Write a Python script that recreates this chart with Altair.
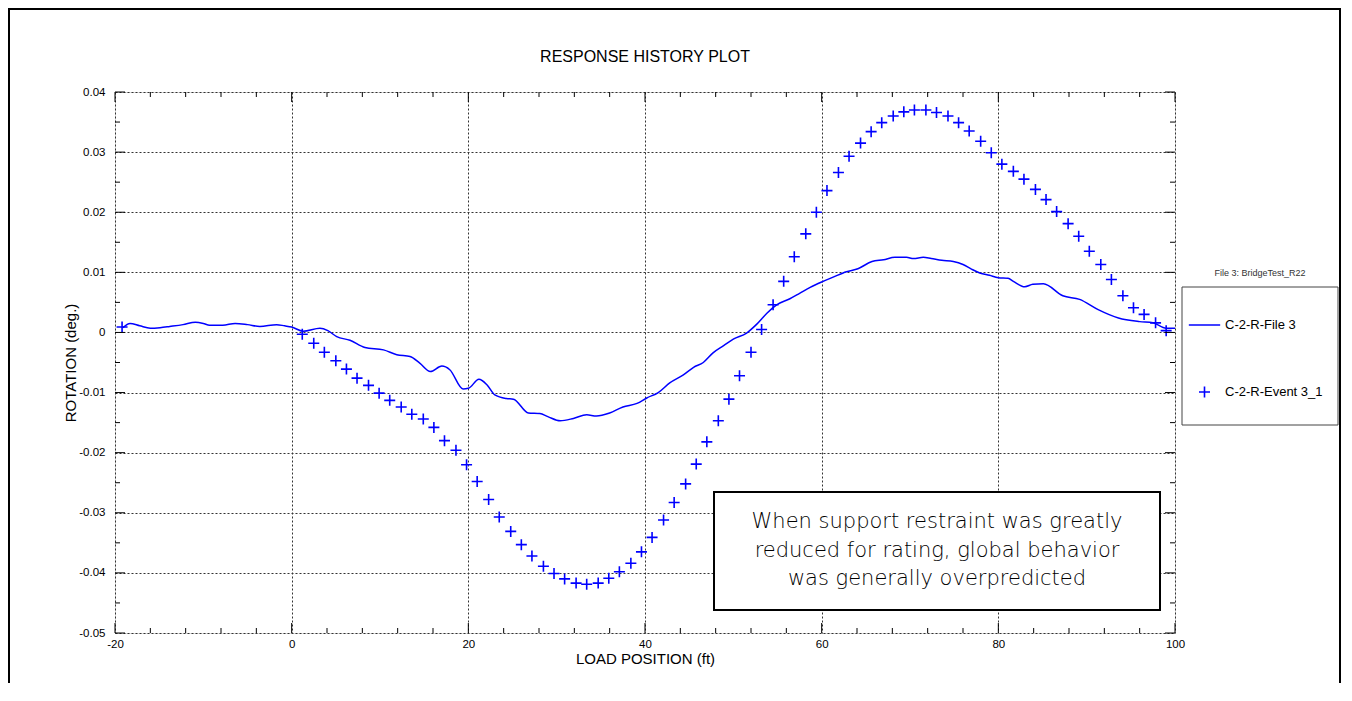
import altair as alt
import pandas as pd

# ---------------- data ----------------
title_text = "RESPONSE HISTORY PLOT"
x_title = "LOAD POSITION (ft)"
y_title = "ROTATION (deg.)"
series_names = ["C-2-R-File 3", "C-2-R-Event 3_1"]
legend_header = "File 3: BridgeTest_R22"
note_lines = ["When support restraint was greatly",
              "reduced for rating, global behavior",
              "was generally overpredicted"]

file_x = [-19.1, -18.3, -17.2, -16.0, -14.9, -13.8, -12.3, -10.9, -10.0, -9.3,
          -7.8, -6.4, -5.0, -3.6, -1.7, -0.8, 0.0, 1.3, 3.2, 4.1,
          5.1, 6.6, 8.3, 10.4, 11.9, 13.4, 14.5, 15.7, 17.0, 17.9,
          19.4, 20.0, 21.2, 22.1, 23.0, 24.3, 25.1, 26.8, 28.1, 29.0,
          30.4, 31.9, 33.4, 34.5, 36.0, 37.5, 39.1, 40.2, 41.5, 42.8,
          44.3, 45.5, 46.6, 47.7, 48.9, 50.0, 51.5, 52.6, 53.8, 54.9,
          56.4, 57.5, 58.7, 60.0, 61.3, 62.8, 64.1, 65.7, 67.0, 68.3,
          69.6, 70.4, 71.5, 72.4, 73.6, 74.9, 76.0, 77.0, 77.9, 79.0,
          80.0, 81.1, 81.7, 83.0, 83.9, 85.1, 87.3, 89.2, 91.3, 93.6,
          96.0, 97.5, 99.0, 100.0]
file_y = [0.0008, 0.0015, 0.0011, 0.0007, 0.0008, 0.0010, 0.0013, 0.0017, 0.0015, 0.0012,
          0.0012, 0.0015, 0.0013, 0.0010, 0.0013, 0.0011, 0.0009, 0.0002, 0.0007, 0.0003,
          -0.0007, -0.0013, -0.0025, -0.0029, -0.0037, -0.0040, -0.0051, -0.0065, -0.0056, -0.0062,
          -0.0094, -0.0093, -0.0078, -0.0087, -0.0104, -0.0110, -0.0111, -0.0134, -0.0135, -0.0140,
          -0.0147, -0.0143, -0.0137, -0.0139, -0.0134, -0.0124, -0.0118, -0.0109, -0.0100, -0.0084,
          -0.0071, -0.0058, -0.0050, -0.0034, -0.0022, -0.0011, -0.0001, 0.0013, 0.0032, 0.0046,
          0.0056, 0.0065, 0.0075, 0.0084, 0.0092, 0.0101, 0.0106, 0.0118, 0.0121, 0.0125,
          0.0125, 0.0123, 0.0125, 0.0123, 0.0120, 0.0118, 0.0113, 0.0105, 0.0099, 0.0095,
          0.0091, 0.0090, 0.0085, 0.0076, 0.0080, 0.0081, 0.0061, 0.0055, 0.0038, 0.0024,
          0.0018, 0.0016, 0.0007, 0.0007]

event_x = [-19.2,
           1.2, 2.5, 3.7, 5.0, 6.2, 7.4, 8.7, 9.9, 11.1, 12.4,
           13.6, 14.9, 16.1, 17.3, 18.6, 19.8, 21.0, 22.3, 23.5, 24.8,
           26.0, 27.2, 28.5, 29.7, 30.9, 32.2, 33.4, 34.7, 35.9, 37.1,
           38.4, 39.6, 40.8, 42.1, 43.3, 44.6, 45.8, 47.0, 48.3, 49.5,
           50.7, 52.0, 53.2, 54.5, 55.7, 56.9, 58.2, 59.4, 60.6, 61.9,
           63.1, 64.4, 65.6, 66.8, 68.1, 69.3, 70.5, 71.8, 73.0, 74.3,
           75.5, 76.7, 78.0, 79.2, 80.4, 81.7, 82.9, 84.2, 85.4, 86.6,
           87.9, 89.1, 90.3, 91.6, 92.8, 94.1, 95.3, 96.5, 97.8, 99.0]
event_y = [0.0009,
           -0.0003, -0.0018, -0.0033, -0.0047, -0.0061, -0.0076, -0.0088, -0.0101, -0.0113, -0.0124,
           -0.0136, -0.0144, -0.0158, -0.0180, -0.0196, -0.0220, -0.0248, -0.0278, -0.0307, -0.0331,
           -0.0353, -0.0372, -0.0389, -0.0401, -0.0410, -0.0417, -0.0419, -0.0417, -0.0409, -0.0398,
           -0.0384, -0.0365, -0.0341, -0.0312, -0.0283, -0.0252, -0.0219, -0.0182, -0.0147, -0.0111,
           -0.0072, -0.0033, 0.0005, 0.0046, 0.0085, 0.0126, 0.0164, 0.0200, 0.0236, 0.0266,
           0.0293, 0.0315, 0.0334, 0.0349, 0.0360, 0.0367, 0.0370, 0.0370, 0.0366, 0.0360,
           0.0349, 0.0335, 0.0318, 0.0299, 0.0280, 0.0268, 0.0255, 0.0238, 0.0221, 0.0201,
           0.0181, 0.0160, 0.0135, 0.0113, 0.0088, 0.0061, 0.0041, 0.0030, 0.0016, 0.0003]

x_major = [-20, 0, 20, 40, 60, 80, 100]
x_minor = [-16, -12, -8, -4, 4, 8, 12, 16, 24, 28, 32, 36, 44, 48, 52, 56,
           64, 68, 72, 76, 84, 88, 92, 96]
y_major = [-0.05, -0.04, -0.03, -0.02, -0.01, 0.0, 0.01, 0.02, 0.03, 0.04]
y_minor = [-0.045, -0.035, -0.025, -0.015, -0.005, 0.005, 0.015, 0.025, 0.035]

# ---------------- styling ----------------
BLUE = "#0000FF"
FONT = "Liberation Sans"
W, H = 1060, 541
PLUS = "M-1,0L1,0M0,-1L0,1"
DASH = "M-2.85,0L2.85,0"

df_file = pd.DataFrame({"x": file_x, "y": file_y, "series": series_names[0]})
df_event = pd.DataFrame({"x": event_x, "y": event_y, "series": series_names[1]})
dummy = pd.DataFrame({"k": [0]})

xs = alt.Scale(domain=[-20, 100], nice=False, zero=False)
ys = alt.Scale(domain=[-0.05, 0.04], nice=False, zero=False)

x_axis = alt.Axis(values=x_major, title=x_title, grid=True, gridDash=[2, 2],
                  gridColor="#333", gridWidth=1, ticks=False, domain=False,
                  labelExpr="(datum.value < 0 ? '-' : '') + format(abs(datum.value), 'd')",
                  labelFont=FONT, labelFontSize=11.5, labelColor="black", labelPadding=5,
                  labelFlush=False,
                  titleFont=FONT, titleFontSize=15, titleFontWeight="normal",
                  titleColor="black", titlePadding=2)
y_axis = alt.Axis(values=y_major, title=y_title, grid=True, gridDash=[2, 2],
                  gridColor="#333", gridWidth=1, ticks=False, domain=False,
                  labelExpr="datum.value == 0 ? '0' : (datum.value < 0 ? '-' : '') + format(abs(datum.value), '.2f')",
                  labelFont=FONT, labelFontSize=11.5, labelColor="black", labelPadding=10,
                  labelFlush=False,
                  titleFont=FONT, titleFontSize=15, titleFontWeight="normal",
                  titleColor="black", titlePadding=0)

X = lambda f: alt.X(f, scale=xs, axis=x_axis)
Y = lambda f: alt.Y(f, scale=ys, axis=y_axis)

line = alt.Chart(df_file).mark_line(color=BLUE, strokeWidth=1.5, interpolate="monotone").encode(
    x=X("x:Q"), y=Y("y:Q"),
)

points = alt.Chart(df_event).mark_point(filled=False, size=121, strokeWidth=1.6,
                                         color=BLUE, opacity=1).encode(
    x=X("x:Q"), y=Y("y:Q"),
    shape=alt.Shape("series:N",
                    scale=alt.Scale(domain=series_names, range=[DASH, PLUS]),
                    legend=alt.Legend(title=None, orient="none", legendX=1083, legendY=226.5,
                                      padding=0, labelFont=FONT, labelFontSize=13,
                                      labelColor="black", labelOffset=14, rowPadding=50,
                                      symbolSize=121, symbolStrokeWidth=1.6,
                                      symbolStrokeColor=BLUE, symbolFillColor="transparent")),
)


def xticks(vals, L):
    base = alt.Chart(pd.DataFrame({"v": vals})).encode(x=X("v:Q"))
    b = base.mark_rule(color="black", strokeWidth=1).encode(y=alt.value(H), y2=alt.value(H - L))
    t = base.mark_rule(color="black", strokeWidth=1).encode(y=alt.value(0), y2=alt.value(L))
    return [b, t]


def yticks(vals, L):
    base = alt.Chart(pd.DataFrame({"v": vals})).encode(y=Y("v:Q"))
    l = base.mark_rule(color="black", strokeWidth=1).encode(x=alt.value(0), x2=alt.value(L))
    r = base.mark_rule(color="black", strokeWidth=1).encode(x=alt.value(W), x2=alt.value(W - L))
    return [l, r]


ticks = xticks(x_major, 10) + xticks(x_minor, 5) + yticks(y_major, 10) + yticks(y_minor, 5)

# chart title (drawn as text so the outer frame does not push it away)
title = alt.Chart(dummy).mark_text(font=FONT, fontSize=16, color="black", align="center",
                                   baseline="alphabetic").encode(
    x=alt.value(W / 2), y=alt.value(-30), text=alt.value(title_text))

# legend frame and header
legend_box = alt.Chart(dummy).mark_rect(fill="transparent", stroke="#444", strokeWidth=1).encode(
    x=alt.value(1067), x2=alt.value(1223), y=alt.value(195), y2=alt.value(333))
legend_head = alt.Chart(dummy).mark_text(font=FONT, fontSize=9, color="#333",
                                         align="center", baseline="middle").encode(
    x=alt.value(1145), y=alt.value(181), text=alt.value(legend_header))

# annotation
note_box = alt.Chart(dummy).mark_rect(fill="white", stroke="black", strokeWidth=2).encode(
    x=alt.value(599), x2=alt.value(1045), y=alt.value(400), y2=alt.value(518))
note = alt.Chart(dummy).mark_text(font="DejaVu Sans", fontSize=21, fontWeight=200, color="#000",
                                  align="center", baseline="middle", lineHeight=28.5).encode(
    x=alt.value(822), y=alt.value(430), text=alt.value(note_lines))

# outer frame
frame_top = alt.Chart(dummy).mark_rule(color="black", strokeWidth=2).encode(
    x=alt.value(-107), x2=alt.value(1226), y=alt.value(-83))
frame_left = alt.Chart(dummy).mark_rule(color="black", strokeWidth=2).encode(
    x=alt.value(-106), y=alt.value(-84), y2=alt.value(591))
frame_right = alt.Chart(dummy).mark_rule(color="black", strokeWidth=2).encode(
    x=alt.value(1225), y=alt.value(-84), y2=alt.value(591))

chart = alt.layer(
    line, points, *ticks, title, legend_box, legend_head, note_box, note,
    frame_top, frame_left, frame_right,
).properties(
    width=W, height=H,
    autosize=alt.AutoSizeParams(type="none"),
    padding={"left": 107, "top": 84, "right": 166, "bottom": 50},
).configure_view(
    stroke="black", strokeWidth=1
).configure(background="white")

chart.save("out.html", embed_options={"renderer": "svg", "actions": False})
